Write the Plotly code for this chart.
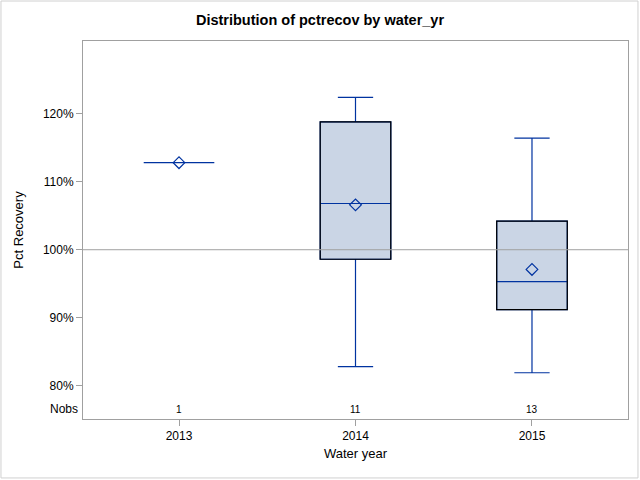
import plotly.graph_objects as go

years = ["2013", "2014", "2015"]
nobs = [1, 11, 13]
q1 = [112.8, 98.6, 91.2]
median = [112.8, 106.8, 95.3]
q3 = [112.8, 118.8, 104.2]
lower = [112.8, 82.8, 81.9]
upper = [112.8, 122.4, 116.4]
means = [112.8, 106.6, 97.1]
ref_value = 100
y_ticks = [80, 90, 100, 110, 120]

FONT = "Liberation Sans, Arial, sans-serif"
BLUE = "#0033A0"
FILL = "#CAD5E5"
GRAY = "#A0A0A0"
BOX_W = 0.4

fig = go.Figure()

# boxes with blue whiskers / median
fig.add_trace(go.Box(
    x=years, q1=q1, median=median, q3=q3,
    lowerfence=lower, upperfence=upper,
    width=BOX_W, whiskerwidth=0.5,
    fillcolor=FILL, line=dict(color=BLUE, width=1.2),
    boxpoints=False, hoverinfo="skip", showlegend=False,
))

# black outlines of the boxes (only groups with a real box), derived from data
for i, (a, b) in enumerate(zip(q1, q3)):
    if b > a:
        fig.add_shape(type="rect", xref="x", yref="y",
                      x0=i - BOX_W / 2, x1=i + BOX_W / 2, y0=a, y1=b,
                      line=dict(color="black", width=1.2), layer="above")

# means
fig.add_trace(go.Scatter(
    x=years, y=means, mode="markers",
    marker=dict(symbol="diamond-open", size=9, color=BLUE, line=dict(width=1.2, color=BLUE)),
    hoverinfo="skip", showlegend=False,
))

# reference line
fig.add_shape(type="line", xref="paper", yref="y", x0=0, x1=1, y0=ref_value, y1=ref_value,
              line=dict(color=GRAY, width=1), layer="above")

# Nobs row
for i, n in enumerate(nobs):
    fig.add_annotation(xref="x", x=i, y=76.5, text=str(n), showarrow=False,
                       font=dict(family=FONT, size=10, color="black"))
fig.add_annotation(xref="paper", x=0, y=76.5, text="Nobs", showarrow=False,
                   xanchor="right", xshift=-3, font=dict(family=FONT, size=12, color="black"))

# outer border
fig.add_shape(type="rect", xref="paper", yref="paper",
              x0=-0.1505, x1=1.0183, y0=-0.156, y1=1.1058,
              line=dict(color="#D0D0D0", width=1))

fig.update_layout(
    width=640, height=480,
    margin=dict(l=83, r=12, t=41, b=61),
    paper_bgcolor="white", plot_bgcolor="white",
    font=dict(family=FONT, size=12, color="black"),
    title=dict(text="<b>Distribution of pctrecov by water_yr</b>", x=0.5, xanchor="center",
               y=1 - 20 / 480, yanchor="middle", font=dict(family=FONT, size=14.5, color="black")),
)

fig.update_xaxes(
    type="category", range=[-0.544, 2.544],
    showline=True, linecolor=GRAY, linewidth=1, mirror=True,
    ticks="outside", ticklen=6, tickcolor=GRAY, showgrid=False, zeroline=False,
    title=dict(text="Water year", font=dict(family=FONT, size=13), standoff=6),
    tickfont=dict(family=FONT, size=12),
)
fig.update_yaxes(
    range=[75.1, 130.7],
    tickvals=y_ticks, ticktext=[f"{v}%" for v in y_ticks],
    showline=True, linecolor=GRAY, linewidth=1, mirror=True,
    ticks="outside", ticklen=6, tickcolor=GRAY, showgrid=False, zeroline=False,
    title=dict(text="Pct Recovery", font=dict(family=FONT, size=13), standoff=16),
    tickfont=dict(family=FONT, size=12),
)

fig.write_html("out.html", config={"displayModeBar": False},
               post_script="document.body.style.margin='0';")
